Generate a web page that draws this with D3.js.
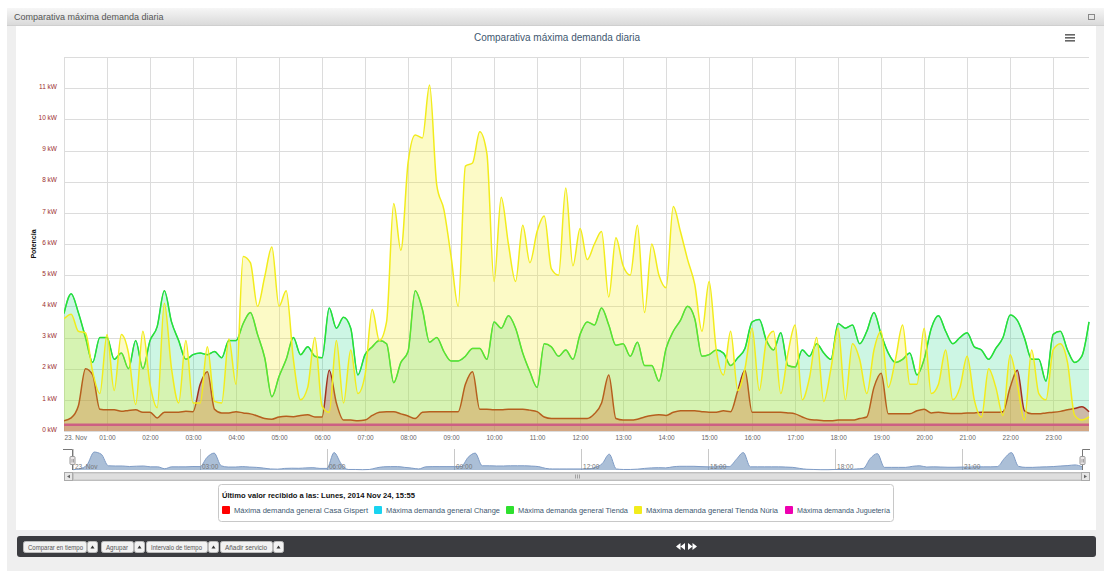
<!DOCTYPE html>
<html>
<head>
<meta charset="utf-8">
<script src="https://cdn.jsdelivr.net/npm/d3@7"></script>
<style>
    body { margin: 0; background: #fff; }
    svg { display: block; font-family: "Liberation Sans", Arial, sans-serif; }
</style>
</head>
<body>
<svg id="chart" width="1104" height="571"></svg>
<script>
// readings every 10 minutes, 23 Nov 2014 00:00 -> 23:50 (kW)
const stepMinutes = 10;

const casaGispertVals = [
    0.33, 0.42, 0.8, 2.0, 1.8, 0.7, 0.68, 0.68, 0.63, 0.66,
    0.68, 0.6, 0.6, 0.42, 0.6, 0.6, 0.6, 0.63, 0.62, 1.5,
    1.9, 0.7, 0.58, 0.58, 0.62, 0.58, 0.55, 0.48, 0.4, 0.38,
    0.45, 0.47, 0.46, 0.5, 0.52, 0.45, 0.45, 1.95, 0.9, 0.35,
    0.35, 0.33, 0.35, 0.5, 0.6, 0.62, 0.62, 0.55, 0.48, 0.4,
    0.6, 0.62, 0.62, 0.62, 0.62, 0.62, 1.5, 1.9, 0.7, 0.7,
    0.68, 0.68, 0.7, 0.7, 0.7, 0.67, 0.62, 0.45, 0.4, 0.4,
    0.4, 0.4, 0.4, 0.4, 0.55, 0.9, 1.8, 0.4, 0.35, 0.35,
    0.38, 0.45, 0.5, 0.52, 0.5, 0.6, 0.65, 0.65, 0.65, 0.62,
    0.6, 0.6, 0.65, 0.62, 1.3, 1.95, 0.6, 0.6, 0.6, 0.6,
    0.6, 0.58, 0.55, 0.45, 0.37, 0.35, 0.33, 0.33, 0.35, 0.35,
    0.35, 0.4, 0.45, 1.4, 1.85, 0.55, 0.55, 0.55, 0.55, 0.65,
    0.7, 0.58, 0.6, 0.58, 0.56, 0.56, 0.58, 0.58, 0.6, 0.6,
    0.6, 0.62, 1.4, 1.95, 0.65, 0.55, 0.55, 0.58, 0.6, 0.63,
    0.68, 0.72, 0.78, 0.62
];

const tiendaVals = [
    3.77, 4.4, 3.8, 3.0, 2.2, 3.0, 3.0, 2.3, 2.5, 2.0,
    2.9, 2.0, 2.9, 3.35, 4.5, 3.5, 2.9, 2.3, 2.45, 2.5,
    2.45, 2.55, 2.35, 2.9, 2.9, 3.45, 3.8, 3.1, 2.35, 1.1,
    1.75, 2.3, 3.0, 2.45, 2.7, 2.4, 2.35, 3.95, 3.3, 3.65,
    3.3, 1.8, 2.45, 2.7, 2.9, 2.8, 1.55, 2.2, 2.55, 4.5,
    3.9, 2.85, 3.0, 2.55, 2.25, 2.25, 2.4, 2.65, 2.65, 2.3,
    3.5, 3.3, 3.7, 3.3, 2.5, 1.9, 1.4, 2.8, 2.7, 2.4,
    2.6, 2.3, 3.1, 3.5, 3.4, 3.95, 3.4, 2.75, 2.8, 2.4,
    2.85, 2.1, 2.1, 1.6, 2.65, 3.2, 3.55, 4.0, 3.6, 2.4,
    2.45, 2.6, 2.5, 2.1, 2.35, 2.65, 3.5, 3.58, 2.9, 2.6,
    3.15, 2.1, 2.05, 2.6, 2.4, 2.8, 2.5, 2.3, 3.45, 3.3,
    3.4, 2.8, 3.2, 3.8, 3.1, 2.5, 2.2, 2.3, 2.5, 1.8,
    2.3, 3.3, 3.7, 3.2, 2.8, 3.0, 3.15, 2.7, 2.6, 2.3,
    2.65, 3.0, 3.72, 3.55, 2.98, 2.3, 2.3, 1.6, 3.1, 3.2,
    2.6, 2.2, 2.4, 3.5
];

// the Change line sits exactly under the Tienda line in the picture
const changeVals = tiendaVals.slice();

const tiendaNuriaVals = [
    3.6, 3.75, 3.2, 3.15, 1.9, 1.2, 3.1, 1.3, 3.1, 2.5,
    0.85, 3.2, 1.5, 0.75, 4.1, 2.0, 0.9, 2.9, 0.9, 0.9,
    2.7, 0.95, 0.9, 2.95, 1.5, 5.6, 5.4, 4.0, 4.95, 5.9,
    4.0, 4.5, 2.3, 1.0, 1.4, 3.0, 0.8, 0.6, 2.9, 0.9,
    2.6, 1.2, 1.8, 3.9, 2.9, 3.5, 7.3, 5.8, 8.6, 9.5,
    9.4, 11.1, 7.9, 7.1, 5.6, 4.0, 8.5, 8.6, 9.6, 8.9,
    4.8, 7.5, 6.0, 4.8, 6.6, 5.4, 6.4, 6.9, 5.2, 5.0,
    7.8, 5.3, 6.5, 5.5, 6.0, 6.4, 4.3, 6.2, 5.3, 5.0,
    6.6, 3.8, 6.0, 5.0, 4.6, 7.2, 6.4, 5.5, 4.7, 3.2,
    4.8, 2.6, 1.8, 3.2, 1.3, 2.0, 3.3, 1.3, 2.9, 3.2,
    1.2, 2.5, 3.4, 1.0, 1.7, 3.0, 0.95, 2.0, 3.3, 1.0,
    2.8, 2.3, 1.2, 2.6, 3.2, 1.4, 2.3, 3.4, 1.5, 1.5,
    3.3, 1.2, 1.5, 2.6, 1.0, 1.4, 2.4, 1.0, 0.45, 2.0,
    1.4, 0.5, 2.45, 1.5, 0.35, 2.6, 1.2, 1.0, 2.6, 2.8,
    2.2, 0.5, 0.35, 0.45
];

const jugueteriaVals = [
    0.2, 0.2, 0.2, 0.2, 0.2, 0.2, 0.2, 0.2, 0.2, 0.2, 0.2, 0.2, 0.2, 0.2, 0.2, 0.2, 0.2, 0.2, 0.2, 0.2, 0.2, 0.2, 0.2, 0.2,
    0.2, 0.2, 0.2, 0.2, 0.2, 0.2, 0.2, 0.2, 0.2, 0.2, 0.2, 0.2, 0.2, 0.2, 0.2, 0.2, 0.2, 0.2, 0.2, 0.2, 0.2, 0.2, 0.2, 0.2,
    0.2, 0.2, 0.2, 0.2, 0.2, 0.2, 0.2, 0.2, 0.2, 0.2, 0.2, 0.2, 0.2, 0.2, 0.2, 0.2, 0.2, 0.2, 0.2, 0.2, 0.2, 0.2, 0.2, 0.2,
    0.2, 0.2, 0.2, 0.2, 0.2, 0.2, 0.2, 0.2, 0.2, 0.2, 0.2, 0.2, 0.2, 0.2, 0.2, 0.2, 0.2, 0.2, 0.2, 0.2, 0.2, 0.2, 0.2, 0.2,
    0.2, 0.2, 0.2, 0.2, 0.2, 0.2, 0.2, 0.2, 0.2, 0.2, 0.2, 0.2, 0.2, 0.2, 0.2, 0.2, 0.2, 0.2, 0.2, 0.2, 0.2, 0.2, 0.2, 0.2,
    0.2, 0.2, 0.2, 0.2, 0.2, 0.2, 0.2, 0.2, 0.2, 0.2, 0.2, 0.2, 0.2, 0.2, 0.2, 0.2, 0.2, 0.2, 0.2, 0.2, 0.2, 0.2, 0.2, 0.2
];

const seriesNames = [
    "Máxima demanda general Casa Gispert",
    "Máxima demanda general Change",
    "Máxima demanda general Tienda",
    "Máxima demanda general Tienda Núria",
    "Máxima demanda Juguetería"
];
const seriesColors = ["#ff0000", "#19d3f0", "#2ee02e", "#f2ec1c", "#ee00b0"];
const seriesValues = [casaGispertVals, changeVals, tiendaVals, tiendaNuriaVals, jugueteriaVals];

const yTicks = [0, 1, 2, 3, 4, 5, 6, 7, 8, 9, 10, 11, 12];
const yMax = 12;
const chartTitle = "Comparativa máxima demanda diaria";
const legendTitle = "Último valor recibido a las: Lunes, 2014 Nov 24, 15:55";
const toolButtons = ["Comparar en tiempo", "Agrupar", "Intervalo de tiempo", "Añadir servicio"];

// ---------------------------------------------------------------
const svg = d3.select("#chart");
const plot = {left: 64, right: 1089, top: 57, bottom: 431};
const start = new Date(2014, 10, 23, 0, 0);
const times = casaGispertVals.map((_, i) => d3.timeMinute.offset(start, i * stepMinutes));

// page frame
svg.append("rect").attr("x", 7).attr("y", 8).attr("width", 1097).attr("height", 563).attr("fill", "#efefef");
const hdr = svg.append("defs").append("linearGradient").attr("id", "hdr").attr("x1", 0).attr("x2", 0).attr("y1", 0).attr("y2", 1);
hdr.append("stop").attr("offset", 0).attr("stop-color", "#f6f6f6");
hdr.append("stop").attr("offset", 1).attr("stop-color", "#dadada");
svg.append("rect").attr("x", 7).attr("y", 8).attr("width", 1097).attr("height", 17).attr("fill", "url(#hdr)");
svg.append("line").attr("x1", 7).attr("x2", 1104).attr("y1", 25.5).attr("y2", 25.5).attr("stroke", "#cfcfcf");
svg.append("text").attr("x", 14).attr("y", 20).attr("font-size", 9).attr("fill", "#555").text(chartTitle);
svg.append("rect").attr("x", 1088.5).attr("y", 14.5).attr("width", 6).attr("height", 5)
    .attr("fill", "none").attr("stroke", "#888");

svg.append("rect").attr("x", 16).attr("y", 26).attr("width", 1080).attr("height", 504).attr("fill", "#fff");

svg.append("text").attr("x", 557).attr("y", 41).attr("text-anchor", "middle")
    .attr("font-size", 10).attr("fill", "#3e576f").text(chartTitle);

// export menu icon
[34, 37, 40].forEach(yy => {
    svg.append("rect").attr("x", 1065).attr("y", yy).attr("width", 10).attr("height", 1.6).attr("fill", "#666");
});

// scales
const x = d3.scaleTime().domain(d3.extent(times)).range([plot.left, plot.right]);
const y = d3.scaleLinear().domain([0, yMax]).range([plot.bottom, plot.top]);

// grid + axes
const yAxis = svg.append("g")
    .attr("transform", `translate(${plot.left},0)`)
    .call(d3.axisLeft(y).tickValues(yTicks)
        .tickSize(-(plot.right - plot.left))
        .tickPadding(7)
        .tickFormat(d => d === yMax ? "" : `${d} kW`));
yAxis.select(".domain").remove();
yAxis.selectAll("line").attr("stroke", "#dcdcdc").attr("shape-rendering", "crispEdges");
yAxis.selectAll("text").attr("dy", "0.05em").attr("fill", "#9b2d2d")
    .attr("font-size", 6.5).attr("font-family", "Liberation Sans, Arial, sans-serif");

const xAxis = svg.append("g")
    .attr("transform", `translate(0,${plot.bottom})`)
    .call(d3.axisBottom(x).ticks(d3.timeHour.every(1))
        .tickSize(-(plot.bottom - plot.top))
        .tickPadding(4.5)
        .tickFormat(d => d.getHours() === 0 ? "23. Nov" : d3.timeFormat("%H:%M")(d)));
xAxis.select(".domain").remove();
xAxis.selectAll("line").attr("stroke", "#dcdcdc").attr("shape-rendering", "crispEdges");
xAxis.selectAll("text").attr("fill", "#666").attr("font-size", 6.5)
    .attr("font-family", "Liberation Sans, Arial, sans-serif")
    .attr("text-anchor", d => d.getHours() === 0 ? "start" : "middle");

svg.append("text")
    .attr("transform", `translate(36,${(plot.top + plot.bottom) / 2}) rotate(-90)`)
    .attr("text-anchor", "middle").attr("font-size", 7).attr("font-weight", "bold")
    .attr("fill", "#111").text("Potencia");

// series
svg.append("clipPath").attr("id", "clip").append("rect")
    .attr("x", plot.left).attr("y", plot.top)
    .attr("width", plot.right - plot.left + 1).attr("height", plot.bottom - plot.top);

const area = d3.area().x((d, i) => x(times[i])).y0(y(0)).y1(d => y(d)).curve(d3.curveMonotoneX);
const line = d3.line().x((d, i) => x(times[i])).y(d => y(d)).curve(d3.curveMonotoneX);

const drawOrder = [0, 4, 1, 2, 3];
const fillOpacity = [0.3, 0.12, 0.12, 0.25, 0.3];
const lineWidth = [1.5, 1.2, 1.5, 1.5, 2.5];
const lineColors = ["#c80000", "#19d3f0", "#2ee02e", "#f2ec1c", "#ee00b0"];
const seriesG = svg.append("g").attr("clip-path", "url(#clip)");
drawOrder.forEach(s => {
    const g = seriesG.append("g");
    g.append("path").attr("d", area(seriesValues[s]))
        .attr("fill", seriesColors[s]).attr("fill-opacity", fillOpacity[s]);
    g.append("path").attr("d", line(seriesValues[s]))
        .attr("fill", "none").attr("stroke", lineColors[s]).attr("stroke-width", lineWidth[s]);
});

// navigator
const nav = {left: 73, right: 1082, top: 449, bottom: 470};
const xn = d3.scaleTime().domain(x.domain()).range([nav.left, nav.right]);
const yn = d3.scaleLinear().domain([0.3, 2.1]).range([nav.bottom, nav.top + 2]);
const navG = svg.append("g");
const navTicks = d3.timeHour.every(3).range(start, d3.timeMinute.offset(times[times.length - 1], 1));
navG.selectAll(".ng").data(navTicks).join("line")
    .attr("x1", d => Math.round(xn(d)) + 0.5).attr("x2", d => Math.round(xn(d)) + 0.5)
    .attr("y1", nav.top).attr("y2", nav.bottom).attr("stroke", "#c8c8c8");
navG.append("path")
    .attr("d", d3.area().x((d, i) => xn(times[i])).y0(nav.bottom).y1(d => yn(d)).curve(d3.curveMonotoneX)(casaGispertVals))
    .attr("fill", "#4572a7").attr("fill-opacity", 0.45);
navG.append("path")
    .attr("d", d3.line().x((d, i) => xn(times[i])).y(d => yn(d)).curve(d3.curveMonotoneX)(casaGispertVals))
    .attr("fill", "none").attr("stroke", "#7f9cc6").attr("stroke-width", 1);
navG.selectAll(".nl").data(navTicks).join("text")
    .attr("x", d => xn(d) + 2).attr("y", nav.bottom - 1)
    .attr("font-size", 6.5).attr("fill", "#777")
    .text(d => d.getHours() === 0 ? "23. Nov" : d3.timeFormat("%H:%M")(d));
navG.append("path")
    .attr("d", `M63,${nav.top + 0.5} H${nav.left - 0.5} V${nav.bottom} M${nav.right + 0.5},${nav.bottom} V${nav.top + 0.5} H1090`)
    .attr("fill", "none").attr("stroke", "#777");
[nav.left - 0.5, nav.right + 0.5].forEach(hx => {
    navG.append("rect").attr("x", hx - 2.5).attr("y", 456.5).attr("width", 5).attr("height", 8).attr("rx", 1)
        .attr("fill", "#ebe7e8").attr("stroke", "#999");
    navG.append("path").attr("d", `M${hx - 0.5},459 V462.5 M${hx + 1},459 V462.5`).attr("stroke", "#777").attr("stroke-width", 0.6);
});

// scrollbar
const sb = svg.append("g");
sb.append("rect").attr("x", 64.5).attr("y", 472.5).attr("width", 1025).attr("height", 8)
    .attr("fill", "#eeeeee").attr("stroke", "#b8b8b8");
sb.append("rect").attr("x", 73.5).attr("y", 473).attr("width", 1008).attr("height", 7)
    .attr("fill", "#dedede").attr("stroke", "#c4c4c4");
[[64.5, "M67,476.5 L70,474.8 L70,478.2 Z"], [1081.5, "M1087,476.5 L1084,474.8 L1084,478.2 Z"]].forEach(([bx, tri]) => {
    sb.append("rect").attr("x", bx).attr("y", 472.5).attr("width", 8).attr("height", 8)
        .attr("fill", "#e6e6e6").attr("stroke", "#aaa");
    sb.append("path").attr("d", tri).attr("fill", "#666");
});
sb.append("path").attr("d", "M575.5,474.5 V478.5 M577.5,474.5 V478.5 M579.5,474.5 V478.5")
    .attr("stroke", "#888").attr("stroke-width", 0.7);

// legend
const lg = svg.append("g");
lg.append("rect").attr("x", 218.5).attr("y", 484.5).attr("width", 675).attr("height", 37).attr("rx", 3)
    .attr("fill", "#fff").attr("stroke", "#c8c8c8");
lg.append("text").attr("x", 222).attr("y", 497.5)
    .attr("font-size", 8).attr("font-weight", "bold").attr("fill", "#111")
    .attr("textLength", 193).attr("lengthAdjust", "spacingAndGlyphs").text(legendTitle);
const legendX = [222, 374, 506, 634, 785];
const legendW = [134, 114, 110, 132, 93];
seriesNames.forEach((name, i) => {
    lg.append("rect").attr("x", legendX[i]).attr("y", 506).attr("width", 8).attr("height", 8).attr("rx", 1)
        .attr("fill", seriesColors[i]);
    lg.append("text").attr("x", legendX[i] + 12).attr("y", 513)
        .attr("font-size", 7.5).attr("fill", "#3e576f")
        .attr("textLength", legendW[i]).attr("lengthAdjust", "spacingAndGlyphs").text(name);
});

// toolbar
const tb = svg.append("g");
tb.append("rect").attr("x", 17).attr("y", 536).attr("width", 1079).attr("height", 21).attr("rx", 3).attr("fill", "#3b3c40");
const btnX = [23, 101, 146, 220];
const btnW = [63, 32, 61, 52];
const btnTextW = [55, 22, 51, 42];
toolButtons.forEach((label, i) => {
    tb.append("rect").attr("x", btnX[i] + 0.5).attr("y", 541.5).attr("width", btnW[i]).attr("height", 11).attr("rx", 2)
        .attr("fill", "#f2f2f2").attr("stroke", "#bbb");
    tb.append("text").attr("x", btnX[i] + 5).attr("y", 549.5).attr("font-size", 6.5).attr("fill", "#555")
        .attr("textLength", btnTextW[i]).attr("lengthAdjust", "spacingAndGlyphs").text(label);
    const ax = btnX[i] + btnW[i] + 1.5;
    tb.append("rect").attr("x", ax).attr("y", 541.5).attr("width", 10).attr("height", 11).attr("rx", 2)
        .attr("fill", "#f2f2f2").attr("stroke", "#bbb");
    tb.append("path").attr("d", `M${ax + 3},548.5 L${ax + 5},545.5 L${ax + 7},548.5 Z`).attr("fill", "#333");
});
tb.append("path")
    .attr("d", "M676,546.5 L680.5,543 V550 Z M680.5,546.5 L685,543 V550 Z M688,543 L692.5,546.5 L688,550 Z M692.5,543 L697,546.5 L692.5,550 Z")
    .attr("fill", "#fff");
</script>
</body>
</html>
